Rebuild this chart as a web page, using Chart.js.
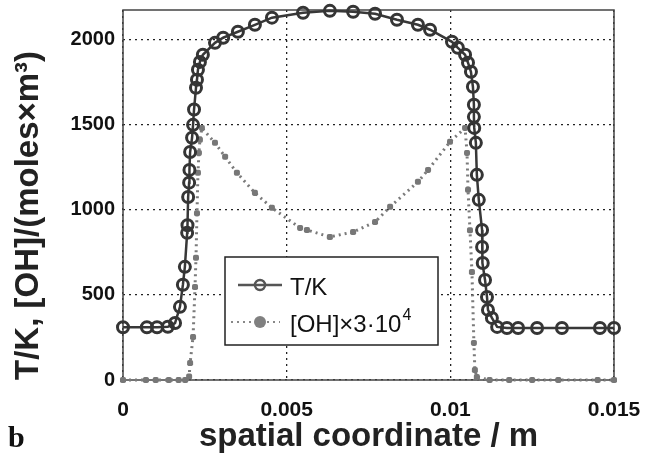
<!DOCTYPE html>
<html>
<head>
<meta charset="utf-8">
<script src="https://cdn.jsdelivr.net/npm/chart.js@4.4.0/dist/chart.umd.min.js"></script>
<style>
  html, body { margin: 0; padding: 0; background: #fff; }
  canvas { display: block; }
</style>
</head>
<body>
<canvas id="chart" width="645" height="453"></canvas>
<script>
// temperature profile
const tX = [0, 0.00073, 0.00104, 0.00137, 0.00159, 0.00174, 0.00183, 0.00189, 0.00196, 0.00197,
  0.00199, 0.00202, 0.00203, 0.00205, 0.00211, 0.00214, 0.00217, 0.00223, 0.00226, 0.00229,
  0.00235, 0.00244, 0.00281, 0.00306, 0.00351, 0.00403, 0.00455, 0.0055, 0.00632, 0.00703,
  0.0077, 0.00837, 0.00901, 0.00938, 0.01005, 0.01023, 0.01045, 0.01054, 0.01063, 0.01069,
  0.01072, 0.01072, 0.01073, 0.01078, 0.01081, 0.01087, 0.01097, 0.01097, 0.01099, 0.01106,
  0.01112, 0.01115, 0.01127, 0.01143, 0.01173, 0.01207, 0.01265, 0.01341, 0.01457, 0.015];
const tY = [310, 310, 310, 313, 335, 430, 560, 665, 865, 910,
  1076, 1160, 1235, 1340, 1424, 1500, 1590, 1718, 1765, 1824,
  1870, 1912, 1982, 2012, 2047, 2088, 2130, 2159, 2170, 2165,
  2153, 2118, 2088, 2059, 1988, 1953, 1912, 1865, 1812, 1724,
  1618, 1547, 1482, 1394, 1206, 1059, 882, 782, 688, 588,
  488, 412, 365, 312, 306, 306, 306, 306, 306, 306];

// [OH] x 3e4 profile
const ohX = [0, 0.0007, 0.001, 0.0014, 0.0017, 0.0019, 0.00202, 0.00205, 0.00214, 0.0022,
  0.00223, 0.00226, 0.00229, 0.00232, 0.00235, 0.00241, 0.00281, 0.00312, 0.00348, 0.00403,
  0.00455, 0.00541, 0.00562, 0.00632, 0.00703, 0.0077, 0.00816, 0.00901, 0.00932, 0.00999,
  0.01045, 0.01051, 0.01054, 0.0106, 0.01066, 0.01072, 0.01075, 0.01081, 0.0112, 0.0118,
  0.0125, 0.0133, 0.0145, 0.015];
const ohY = [0, 0, 0, 0, 0, 0, 20, 100, 253, 547,
  718, 980, 1218, 1335, 1412, 1482, 1394, 1312, 1218, 1100,
  1012, 894, 882, 841, 870, 929, 1018, 1165, 1235, 1400,
  1482, 1335, 1118, 880, 635, 218, 59, 18, 0, 0,
  0, 0, 0, 0];

const xTicks = [0, 0.005, 0.01, 0.015];
const yTicks = [0, 500, 1000, 1500, 2000];

const seriesNames = ['T/K', '[OH]\u00d73\u00b710'];

function toPoints(xs, ys) {
  return xs.map((x, i) => ({ x: x, y: ys[i] }));
}

// frame round the plot area (matlab box on)
const frame = {
  id: 'frame',
  beforeDatasetsDraw(chart) {
    const a = chart.chartArea, ctx = chart.ctx;
    ctx.save();
    ctx.strokeStyle = '#444';
    ctx.lineWidth = 1.5;
    ctx.strokeRect(a.left, a.top, a.right - a.left, a.bottom - a.top);
    ctx.restore();
  }
};

// legend box inside the axes + the "b" panel label
const insideLegend = {
  id: 'insideLegend',
  afterDatasetsDraw(chart) {
    const ctx = chart.ctx;
    const bx = 225, by = 257, bw = 213, bh = 88;
    ctx.save();
    ctx.fillStyle = '#fff';
    ctx.fillRect(bx, by, bw, bh);
    ctx.strokeStyle = '#222';
    ctx.lineWidth = 1.5;
    ctx.strokeRect(bx, by, bw, bh);

    // T/K sample
    ctx.strokeStyle = '#555';
    ctx.lineWidth = 2.5;
    ctx.beginPath(); ctx.moveTo(238, 285); ctx.lineTo(282, 285); ctx.stroke();
    ctx.beginPath(); ctx.arc(260, 285, 5, 0, Math.PI * 2); ctx.stroke();

    // OH sample
    ctx.strokeStyle = '#888';
    ctx.lineWidth = 2;
    ctx.setLineDash([2, 4]);
    ctx.beginPath(); ctx.moveTo(231, 322); ctx.lineTo(280, 322); ctx.stroke();
    ctx.setLineDash([]);
    ctx.fillStyle = '#808080';
    ctx.beginPath(); ctx.arc(260, 322, 6, 0, Math.PI * 2); ctx.fill();

    ctx.fillStyle = '#111';
    ctx.textBaseline = 'alphabetic';
    ctx.font = '24px "Liberation Sans", Arial, sans-serif';
    ctx.fillText(seriesNames[0], 290, 295);
    ctx.fillText(seriesNames[1], 290, 332);
    const w = ctx.measureText(seriesNames[1]).width;
    ctx.font = '16px "Liberation Sans", Arial, sans-serif';
    ctx.fillText('4', 290 + w + 1, 320);

    ctx.font = 'bold 30px "Liberation Serif", "Times New Roman", serif';
    ctx.fillText('b', 8, 447);
    ctx.restore();
  }
};

new Chart(document.getElementById('chart'), {
  type: 'scatter',
  data: {
    datasets: [
      {
        label: seriesNames[0],
        data: toPoints(tX, tY),
        showLine: true,
        borderColor: '#383838',
        borderWidth: 2.5,
        pointRadius: 5.5,
        pointBorderWidth: 3,
        pointBorderColor: '#353535',
        pointBackgroundColor: 'rgba(0,0,0,0)',
        clip: false
      },
      {
        label: seriesNames[1],
        data: toPoints(ohX, ohY),
        showLine: true,
        borderColor: '#7a7a7a',
        borderWidth: 3,
        borderDash: [2, 4],
        pointRadius: 3.5,
        pointStyle: 'rectRounded',
        pointBorderWidth: 0,
        pointBackgroundColor: '#777',
        clip: false
      }
    ]
  },
  options: {
    responsive: false,
    animation: false,
    layout: { padding: { left: 0, right: 31, top: 10, bottom: 0 } },
    plugins: {
      legend: { display: false },
      tooltip: { enabled: false }
    },
    scales: {
      x: {
        type: 'linear',
        min: 0,
        max: 0.015,
        afterFit: (s) => { s.height = 73; s.paddingLeft = 0; s.paddingRight = 0; },
        afterBuildTicks: (s) => { s.ticks = xTicks.map(v => ({ value: v })); },
        ticks: {
          padding: 20,
          color: '#111',
          font: { family: '"Liberation Sans", Arial, sans-serif', size: 21, weight: 'bold', lineHeight: 1 },
          callback: (v) => String(Math.round(v * 1000) / 1000)
        },
        grid: { color: '#222', lineWidth: 1.3, drawTicks: false },
        border: { display: false, dash: [2, 4] },
        title: {
          display: true,
          text: 'spatial coordinate / m',
          color: '#222',
          font: { family: '"Liberation Sans", Arial, sans-serif', size: 33, weight: 'bold', lineHeight: 1 },
          padding: { top: 0, bottom: 0 }
        }
      },
      y: {
        min: 0,
        max: 2175,
        afterFit: (s) => { s.width = 123; s.paddingTop = 0; s.paddingBottom = 0; },
        afterBuildTicks: (s) => { s.ticks = yTicks.map(v => ({ value: v })); },
        ticks: {
          padding: 8,
          color: '#111',
          font: { family: '"Liberation Sans", Arial, sans-serif', size: 20, weight: 'bold', lineHeight: 1 },
          callback: (v) => String(v)
        },
        grid: { color: '#222', lineWidth: 1.3, drawTicks: false },
        border: { display: false, dash: [2, 4] },
        title: {
          display: true,
          align: 'start',
          text: 'T/K, [OH]/(moles\u00d7m\u00b3)',
          color: '#222',
          font: { family: '"Liberation Sans", Arial, sans-serif', size: 33, weight: 'bold', lineHeight: 1 },
          padding: { top: 12, bottom: 0 }
        }
      }
    }
  },
  plugins: [frame, insideLegend]
});
</script>
</body>
</html>
